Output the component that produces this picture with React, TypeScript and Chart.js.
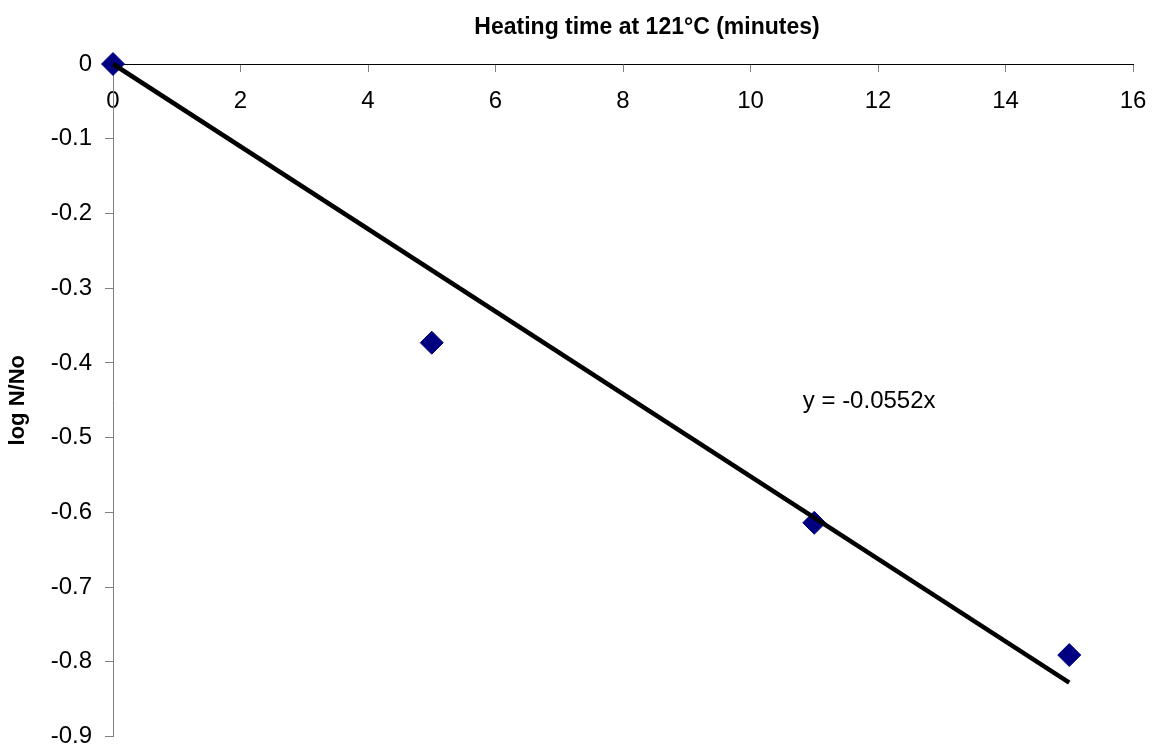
import React, { useEffect, useRef } from 'react';
import { Chart, registerables } from 'chart.js';

Chart.register(...registerables);

const xTitle = 'Heating time at 121°C (minutes)';
const yTitle = 'log N/No';

const heatingTimes = [0, 5, 11, 15];
const logRatios = [0, -0.373, -0.614, -0.791];

const trendSlope = -0.0552;
const trendRange = [0, 15];
const trendLabel = 'y = -0.0552x';
const trendLabelAt = { x: 10.82, y: -0.452 };

const xTicks = [0, 2, 4, 6, 8, 10, 12, 14, 16];
const xTickLabels = ['0', '2', '4', '6', '8', '10', '12', '14', '16'];
const yTicks = [0, -0.1, -0.2, -0.3, -0.4, -0.5, -0.6, -0.7, -0.8, -0.9];
const yTickLabels = ['0', '-0.1', '-0.2', '-0.3', '-0.4', '-0.5', '-0.6', '-0.7', '-0.8', '-0.9'];

const FONT = '"Liberation Sans", Arial, Helvetica, sans-serif';

const textPlugin = {
  id: 'texts',
  afterDraw(chart: any) {
    const { ctx, scales } = chart;
    ctx.save();
    ctx.fillStyle = '#000';
    ctx.textBaseline = 'middle';
    // x-axis title (top)
    ctx.font = `bold 23px ${FONT}`;
    ctx.textAlign = 'center';
    ctx.fillText(xTitle, 647, 28);
    // y-axis title (rotated)
    ctx.save();
    ctx.translate(18, (chart.chartArea.top + chart.chartArea.bottom) / 2);
    ctx.rotate(-Math.PI / 2);
    ctx.font = `bold 22px ${FONT}`;
    ctx.fillText(yTitle, 0, 0);
    ctx.restore();
    // trend equation
    ctx.font = `24px ${FONT}`;
    ctx.textAlign = 'left';
    ctx.fillText(
      trendLabel,
      scales.x.getPixelForValue(trendLabelAt.x),
      scales.y.getPixelForValue(trendLabelAt.y)
    );
    ctx.restore();
  },
};

const zeroPadding = (s: any) => {
  s.paddingLeft = 0;
  s.paddingRight = 0;
  s.paddingTop = 0;
  s.paddingBottom = 0;
};

export default function App() {
  const ref = useRef<HTMLCanvasElement | null>(null);

  useEffect(() => {
    if (!ref.current) return;
    const chart = new Chart(ref.current, {
      type: 'scatter',
      data: {
        datasets: [
          {
            type: 'line',
            label: 'Trend',
            data: trendRange.map((x) => ({ x, y: trendSlope * x })),
            borderColor: '#000',
            borderWidth: 4.5,
            borderCapStyle: 'butt',
            pointRadius: 0,
            fill: false,
            tension: 0,
            clip: false,
          } as any,
          {
            label: 'log N/No',
            data: heatingTimes.map((x, i) => ({ x, y: logRatios[i] })),
            pointStyle: 'rectRot',
            pointRadius: 11.5,
            pointHoverRadius: 11.5,
            backgroundColor: '#000080',
            borderColor: '#000080',
            borderWidth: 1,
            showLine: false,
            clip: false,
          } as any,
        ],
      },
      options: {
        animation: false,
        responsive: false,
        devicePixelRatio: 1,
        layout: { padding: { left: 0, top: 64, right: 24, bottom: 12 } },
        plugins: {
          legend: { display: false },
          tooltip: { enabled: false },
          title: { display: false },
        },
        scales: {
          x: {
            type: 'linear',
            position: { y: 0 } as any,
            min: 0,
            max: 16,
            afterBuildTicks: (s: any) => {
              s.ticks = xTicks.map((v) => ({ value: v }));
            },
            afterFit: zeroPadding,
            ticks: {
              color: '#000',
              padding: 18,
              font: { family: FONT, size: 24, lineHeight: 1 },
              maxRotation: 0,
              callback: (_v: any, i: number) => xTickLabels[i],
            },
            grid: {
              drawOnChartArea: false,
              drawTicks: true,
              tickLength: 7,
              tickColor: '#808080',
            },
            border: { display: true, color: '#000', width: 1 },
          },
          y: {
            type: 'linear',
            position: 'left',
            min: -0.9,
            max: 0,
            afterBuildTicks: (s: any) => {
              s.ticks = yTicks.map((v) => ({ value: v }));
            },
            afterFit: (s: any) => {
              zeroPadding(s);
              s.width = 113;
            },
            ticks: {
              color: '#000',
              padding: 13,
              font: { family: FONT, size: 24, lineHeight: 1 },
              callback: (_v: any, i: number) => yTickLabels[i],
            },
            grid: {
              drawOnChartArea: false,
              drawTicks: true,
              tickLength: 8,
              tickColor: '#808080',
            },
            border: { display: true, color: '#808080', width: 1 },
          },
        },
      },
      plugins: [textPlugin],
    });
    return () => chart.destroy();
  }, []);

  return (
    <div style={{ position: 'absolute', left: 0, top: 0, width: 1157, height: 749, background: '#fff' }}>
      <canvas ref={ref} width={1157} height={749} style={{ display: 'block' }} />
    </div>
  );
}
